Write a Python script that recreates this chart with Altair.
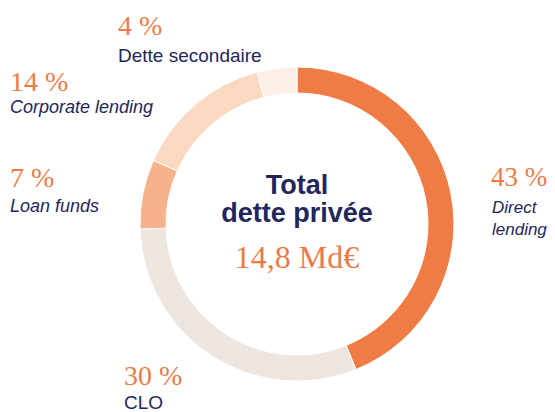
import altair as alt
import pandas as pd

# ---- data ----
categories = ["Direct lending", "CLO", "Loan funds", "Corporate lending", "Dette secondaire"]
values = [43, 30, 7, 14, 4]
pct_labels = ["43 %", "30 %", "7 %", "14 %", "4 %"]
colors = ["#EF7B45", "#EDE6E0", "#F6B28B", "#FAD8C1", "#FDEEE6"]
center_title = ["Total", "dette privée"]
center_value = "14,8 Md€"

NAVY = "#23265A"
ORANGE = "#EE7A45"

df = pd.DataFrame({"cat": categories, "val": values, "order": list(range(len(values)))})

CX, CY = 289, 216

arc = alt.Chart(df).mark_arc(outerRadius=157, innerRadius=131, stroke="white", strokeWidth=1).encode(
    theta=alt.Theta("val:Q", stack=True),
    order=alt.Order("order:Q"),
    color=alt.Color("cat:N", scale=alt.Scale(domain=categories, range=colors), legend=None),
    x=alt.value(CX),
    y=alt.value(CY),
)

# label layout (pixel positions, kept apart from data)
pct_pos = {"Direct lending": (483, 178), "CLO": (116, 377), "Loan funds": (2, 179),
           "Corporate lending": (2, 83), "Dette secondaire": (110, 27)}
name_lines = {"Direct lending": [("Direct", 484, 205), ("lending", 484, 227)],
              "CLO": [("CLO", 116, 401)],
              "Loan funds": [("Loan funds", 2, 204)],
              "Corporate lending": [("Corporate lending", 2, 105)],
              "Dette secondaire": [("Dette secondaire", 110, 54)]}
italic = {"Direct lending": True, "CLO": False, "Loan funds": True,
          "Corporate lending": True, "Dette secondaire": False}
pct_size = {"Direct lending": 27, "CLO": 28, "Loan funds": 28,
            "Corporate lending": 28, "Dette secondaire": 28}
name_size = {"Direct lending": 17, "CLO": 19, "Loan funds": 18,
             "Corporate lending": 18, "Dette secondaire": 19}

layers = [arc]
for c, p in zip(categories, pct_labels):
    x, y = pct_pos[c]
    layers.append(
        alt.Chart(pd.DataFrame({"t": [p]})).mark_text(
            align="left", baseline="alphabetic", font="Liberation Serif",
            fontSize=pct_size[c], color=ORANGE
        ).encode(x=alt.value(x), y=alt.value(y), text="t:N")
    )
    for (t, lx, ly) in name_lines[c]:
        layers.append(
            alt.Chart(pd.DataFrame({"t": [t]})).mark_text(
                align="left", baseline="alphabetic", font="Liberation Sans",
                fontSize=name_size[c], fontStyle="italic" if italic[c] else "normal", color=NAVY
            ).encode(x=alt.value(lx), y=alt.value(ly), text="t:N")
        )

center_df = pd.DataFrame({"t": center_title, "py": [186, 214]})
layers.append(alt.Chart(center_df).mark_text(
    align="center", baseline="alphabetic", font="Liberation Sans", fontSize=27, fontWeight="bold", color=NAVY
).encode(x=alt.value(CX), y=alt.Y("py:Q", scale=None), text="t:N"))

layers.append(alt.Chart(pd.DataFrame({"t": [center_value]})).mark_text(
    align="center", baseline="alphabetic", font="Liberation Serif", fontSize=32, color=ORANGE
).encode(x=alt.value(CX), y=alt.value(260), text="t:N"))

chart = alt.layer(*layers).properties(
    width=539, height=404, padding=0, autosize=alt.AutoSizeParams(type="none")
).configure_view(stroke=None)

chart.save("out.html", embed_options={"renderer": "svg", "actions": False})
